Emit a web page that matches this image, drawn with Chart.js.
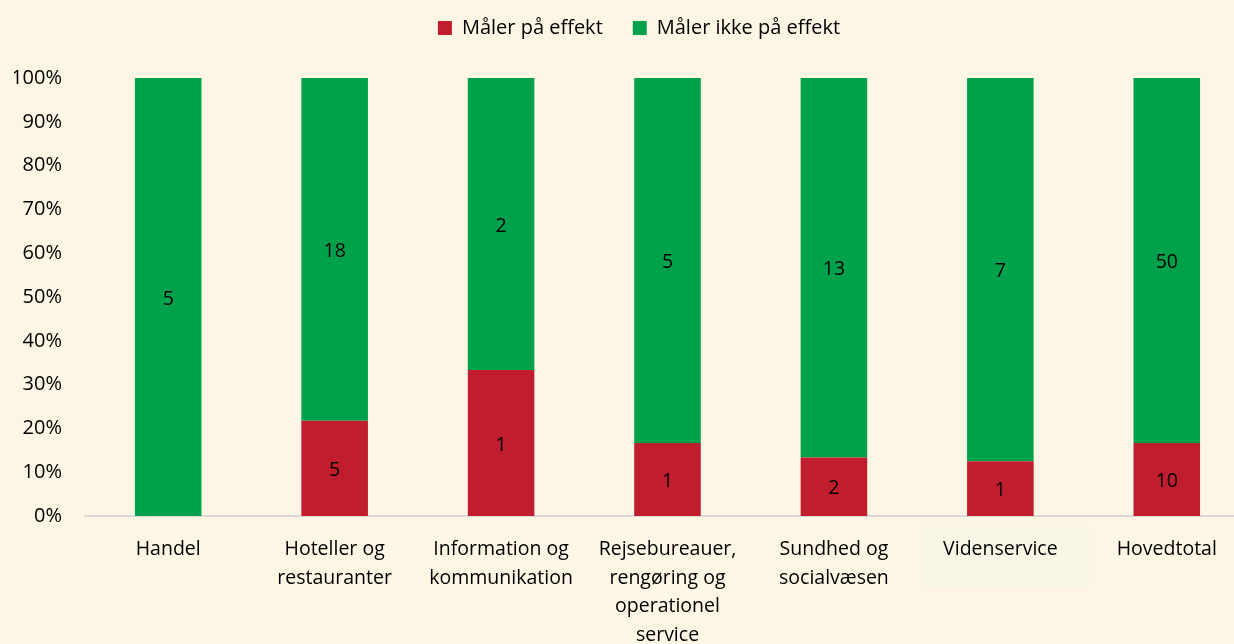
<!DOCTYPE html>
<html>
<head>
<meta charset="utf-8">
<script src="https://cdn.jsdelivr.net/npm/chart.js@4"></script>
<style>
  html, body { margin: 0; padding: 0; background: #fef6e5; overflow: hidden; }
  #wrap { width: 1250px; height: 644px; }
</style>
</head>
<body>
<div id="wrap"><canvas id="chart"></canvas></div>
<script>
const categories = [
    'Handel',
    ['Hoteller og', 'restauranter'],
    ['Information og', 'kommunikation'],
    ['Rejsebureauer,', 'rengøring og', 'operationel', 'service'],
    ['Sundhed og', 'socialvæsen'],
    'Videnservice',
    'Hovedtotal',
];
const maalerCounts     = [0, 5, 1, 1, 2, 1, 10];
const ikkeMaalerCounts = [5, 18, 2, 5, 13, 7, 50];
const yTicks = [0, 10, 20, 30, 40, 50, 60, 70, 80, 90, 100];

const totals = maalerCounts.map((v, i) => v + ikkeMaalerCounts[i]);
const toPct = arr => arr.map((v, i) => v / totals[i] * 100);

const FONT = '"Open Sans", sans-serif';

// count labels in the middle of each segment
const segmentLabels = {
    id: 'segmentLabels',
    afterDatasetsDraw(chart) {
        const ctx = chart.ctx;
        ctx.save();
        ctx.font = '19.5px ' + FONT;
        ctx.fillStyle = '#000';
        ctx.textAlign = 'center';
        ctx.textBaseline = 'middle';
        chart.data.datasets.forEach((ds, di) => {
            chart.getDatasetMeta(di).data.forEach((bar, i) => {
                const n = ds.counts[i];
                if (!n) return;
                ctx.fillText(String(n), bar.x, (bar.y + bar.base) / 2 + 2);
            });
        });
        ctx.restore();
    },
};

// pale box behind the "Videnservice" label
const labelBox = {
    id: 'labelBox',
    beforeDraw(chart) {
        const x = chart.scales.x.getPixelForValue(5);
        const ctx = chart.ctx;
        ctx.save();
        ctx.fillStyle = '#f8f7e6';
        ctx.fillRect(x - 78, 526, 168, 61);
        ctx.restore();
    },
};

// more room below the legend, and nudge it a bit right
const legendGap = {
    id: 'legendGap',
    beforeInit(chart) {
        const fit = chart.legend.fit;
        chart.legend.fit = function () {
            fit.call(this);
            this.height = 90;
        };
    },
    afterLayout(chart) {
        chart.legend.left += 7;
        chart.legend.right += 7;
    },
};

new Chart(document.getElementById('chart').getContext('2d'), {
    type: 'bar',
    data: {
        labels: categories,
        datasets: [
            {
                label: 'Måler på effekt',
                data: toPct(maalerCounts),
                counts: maalerCounts,
                backgroundColor: '#c01e2e',
                barPercentage: 0.4,
                categoryPercentage: 1,
            },
            {
                label: 'Måler ikke på effekt',
                data: toPct(ikkeMaalerCounts),
                counts: ikkeMaalerCounts,
                backgroundColor: '#00a14b',
                barPercentage: 0.4,
                categoryPercentage: 1,
            },
        ],
    },
    plugins: [legendGap, labelBox, segmentLabels],
    options: {
        responsive: true,
        maintainAspectRatio: false,
        animation: false,
        layout: { padding: { top: -12, right: 0, bottom: 0, left: 14 } },
        plugins: {
            legend: {
                position: 'top',
                align: 'center',
                labels: {
                    boxWidth: 14, boxHeight: 14, padding: 30,
                    font: { size: 20, family: FONT }, color: '#000',
                },
                onClick: null,
            },
            tooltip: { enabled: false },
        },
        scales: {
            x: {
                stacked: true,
                grid: { display: false, drawTicks: false },
                border: { color: '#d9d9d9', width: 2 },
                ticks: { font: { size: 19.5, family: FONT, lineHeight: 1.47 }, color: '#000', maxRotation: 0, autoSkip: false, padding: 19 },
                afterFit(scale) { scale.height = 128; },
            },
            y: {
                stacked: true,
                min: 0,
                max: 100,
                grid: { display: false, drawTicks: false },
                border: { display: false },
                afterBuildTicks(scale) { scale.ticks = yTicks.map(v => ({ value: v })); },
                ticks: { font: { size: 20, family: FONT }, color: '#000', padding: 23, callback: v => v + '%' },
                afterFit(scale) { scale.width = 71; },
            },
        },
    },
});
</script>
</body>
</html>
